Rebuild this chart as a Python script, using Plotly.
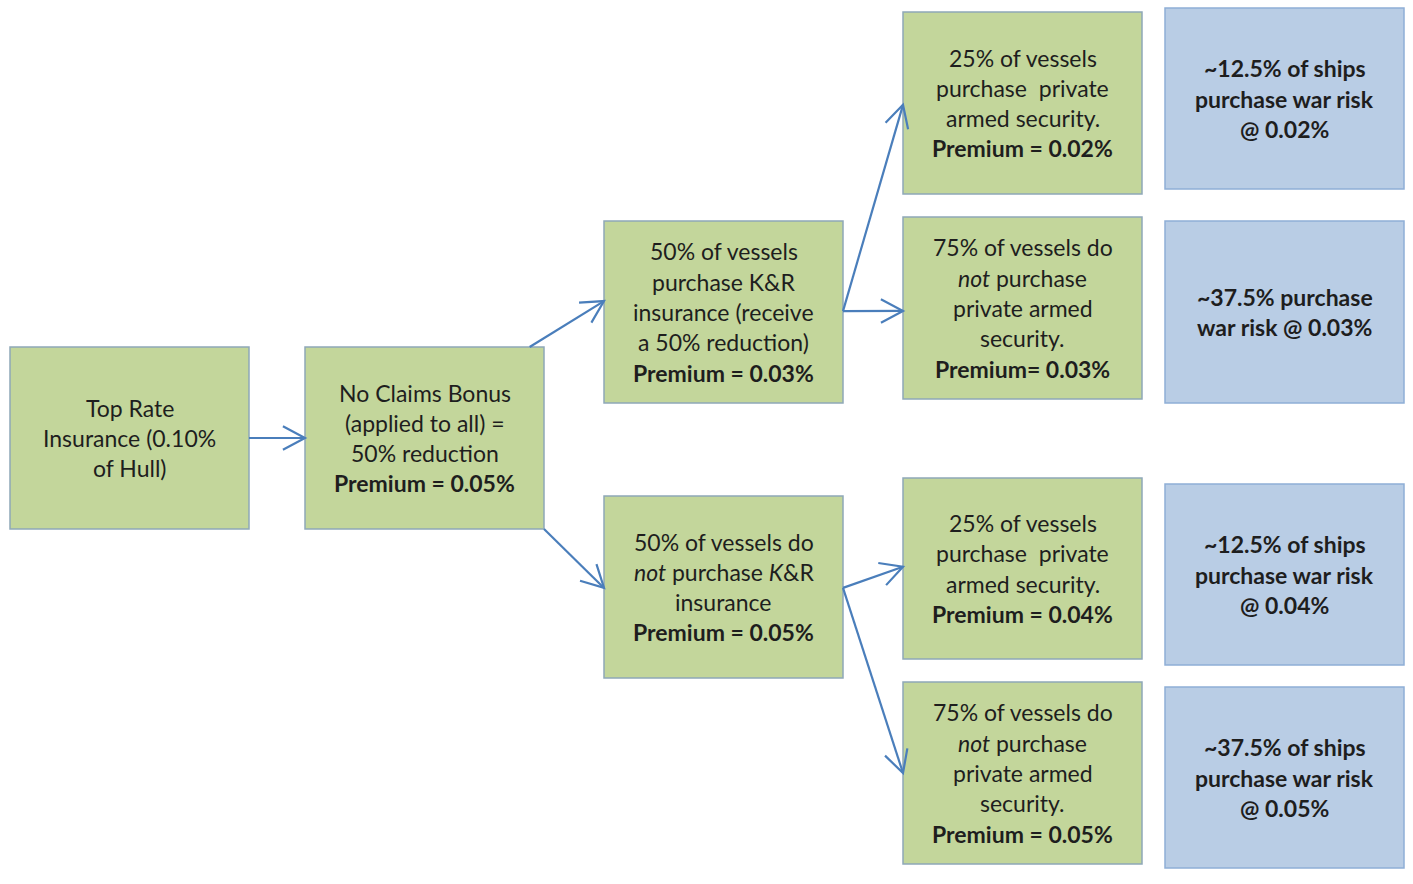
import numpy as np
import plotly.graph_objects as go

# ---- content ----
node_lines = [
    ["Top Rate", "Insurance (0.10%", "of Hull)"],
    ["No Claims Bonus", "(applied to all) =", "50% reduction", "<b>Premium = 0.05%</b>"],
    ["50% of vessels", "purchase K&R", "insurance (receive", "a 50% reduction)", "<b>Premium = 0.03%</b>"],
    ["50% of vessels do", "<i>not</i> purchase <i>K</i>&R", "insurance", "<b>Premium = 0.05%</b>"],
    ["25% of vessels", "purchase  private", "armed security.", "<b>Premium = 0.02%</b>"],
    ["75% of vessels do", "<i>not</i> purchase", "private armed", "security.", "<b>Premium= 0.03%</b>"],
    ["25% of vessels", "purchase  private", "armed security.", "<b>Premium = 0.04%</b>"],
    ["75% of vessels do", "<i>not</i> purchase", "private armed", "security.", "<b>Premium = 0.05%</b>"],
    ["<b>~12.5% of ships</b>", "<b>purchase war risk</b>", "<b>@ 0.02%</b>"],
    ["<b>~37.5% purchase</b>", "<b>war risk @ 0.03%</b>"],
    ["<b>~12.5% of ships</b>", "<b>purchase war risk</b>", "<b>@ 0.04%</b>"],
    ["<b>~37.5% of ships</b>", "<b>purchase war risk</b>", "<b>@ 0.05%</b>"],
]
node_kind = ["g", "g", "g", "g", "g", "g", "g", "g", "b", "b", "b", "b"]
edges_src = [0, 1, 1, 2, 2, 3, 3]
edges_dst = [1, 2, 3, 4, 5, 6, 7]

# ---- layout (pixel positions) ----
node_x0 = [10, 305, 604, 604, 903, 903, 903, 903, 1165, 1165, 1165, 1165]
node_y0 = [347, 347, 221, 496, 12, 217, 478, 682, 8, 221, 484, 687]
node_w = [239] * 12
node_h = [182, 182, 182, 182, 182, 182, 181, 182, 181, 182, 181, 181]
edge_src_anchor = [(1, 0.5), (0.94, 0.0), (1.0, 1.0), (1, 0.495), (1, 0.495), (1, 0.505), (1, 0.505)]
edge_dst_anchor = [(0, 0.5), (0, 0.44), (0, 0.505), (0, 0.51), (0, 0.516), (0, 0.49), (0, 0.5)]

W, H = 1413, 884
LINE_GAP = 30.3
fills = {"g": "#C3D69B", "b": "#B9CDE5"}
borders = {"g": "#8FA8B8", "b": "#8FAFD6"}
ARROW = "#4A7EBB"

fig = go.Figure()
shapes = []
annotations = []

for i, lines in enumerate(node_lines):
    x0, y0, w, h = node_x0[i], node_y0[i], node_w[i], node_h[i]
    k = node_kind[i]
    shapes.append(dict(type="rect", x0=x0, y0=y0, x1=x0 + w, y1=y0 + h,
                       fillcolor=fills[k], line=dict(color=borders[k], width=1.5), layer="below"))
    cx, cy = x0 + w / 2, y0 + h / 2
    n = len(lines)
    for j, t in enumerate(lines):
        y = cy + (j - (n - 1) / 2) * LINE_GAP
        annotations.append(dict(x=cx, y=y, text=t, showarrow=False, xanchor="center", yanchor="middle",
                                font=dict(family="Lato, Carlito, Open Sans, sans-serif", size=23, color="#1E1E1E")))

for s, d, sa, da in zip(edges_src, edges_dst, edge_src_anchor, edge_dst_anchor):
    xs = node_x0[s] + sa[0] * node_w[s]
    ys = node_y0[s] + sa[1] * node_h[s]
    xe = node_x0[d] + da[0] * node_w[d]
    ye = node_y0[d] + da[1] * node_h[d]
    shapes.append(dict(type="line", x0=xs, y0=ys, x1=xe, y1=ye, line=dict(color=ARROW, width=2.2)))
    ang = np.arctan2(ye - ys, xe - xs)
    L, a = 25, np.radians(28)
    p1 = (xe - L * np.cos(ang - a), ye - L * np.sin(ang - a))
    p2 = (xe - L * np.cos(ang + a), ye - L * np.sin(ang + a))
    path = f"M {p1[0]:.2f},{p1[1]:.2f} L {xe:.2f},{ye:.2f} L {p2[0]:.2f},{p2[1]:.2f}"
    shapes.append(dict(type="path", path=path, line=dict(color=ARROW, width=2.2)))

fig.update_layout(
    width=W, height=H, margin=dict(l=0, r=0, t=0, b=0),
    paper_bgcolor="white", plot_bgcolor="white",
    xaxis=dict(range=[0, W], visible=False, fixedrange=True),
    yaxis=dict(range=[H, 0], visible=False, fixedrange=True),
    shapes=shapes, annotations=annotations, showlegend=False,
)
fig.write_html("out.html", config={"displayModeBar": False},
               post_script="document.body.style.margin='0px';document.body.style.overflow='hidden';")
